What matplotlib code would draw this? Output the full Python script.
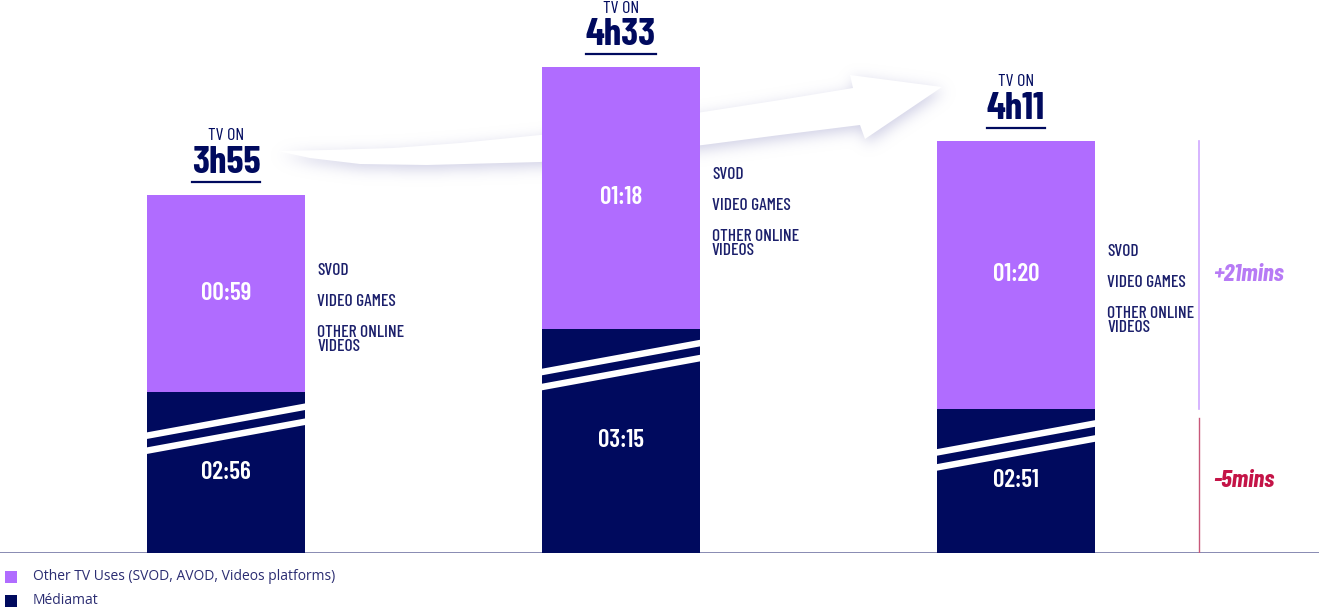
import numpy as np
import matplotlib
matplotlib.use("Agg")
import matplotlib.pyplot as plt
from matplotlib.patches import Polygon, Rectangle
from matplotlib.path import Path
from matplotlib.lines import Line2D
from matplotlib.transforms import IdentityTransform

# minutes per day, three periods
mediamat = [176, 195, 171]
other_uses = [59, 78, 80]
side_labels = ["SVOD", "VIDEO GAMES", "OTHER ONLINE\nVIDEOS"]
series_names = ["Other TV Uses (SVOD, AVOD, Videos platforms)", "Médiamat"]

PURPLE = "#b06cff"
NAVY = "#000a5e"
TEXT_NAVY = "#1b1f6b"
COND = ["Barlow Condensed", "DejaVu Sans"]

W, H = 1319, 613
BREAK = 128          # minutes hidden by the broken axis
PX_PER_MIN = 3.35
BAR_STEP = 395       # px between bar centres
X0 = 226             # px of first bar centre
BASE = 553           # px of baseline (from top)


def hm(m):
    return f"{m // 60:02d}:{m % 60:02d}"


fig = plt.figure(figsize=(W / 100, H / 100), dpi=100)

# pixel overlay for the swoosh arrow and legend
ov = fig.add_axes([0, 0, 1, 1], zorder=0)
ov.set_xlim(0, W)
ov.set_ylim(H, 0)
ov.axis("off")

top = [(277, 151), (327, 150), (393, 148), (460, 143), (540, 135), (620, 124),
       (703, 112), (780, 100), (853, 88)]
head = [(850, 75), (942, 87), (865, 139), (860, 125)]
bottom = [(780, 135), (703, 145), (620, 154), (540, 162), (427, 165),
          (360, 164), (310, 158)]
arrow_pts = np.array(top + head + bottom, dtype=float)

# soft lavender shadow under the arrow
gx0, gx1, gy0, gy1 = 230, 1000, 30, 220
xx, yy = np.meshgrid(np.arange(gx0, gx1) + 0.5, np.arange(gy0, gy1) + 0.5)
shadow_path = Path(arrow_pts + np.array([2, 4]))
mask = shadow_path.contains_points(np.c_[xx.ravel(), yy.ravel()]).reshape(xx.shape).astype(float)
sig = 7
k = np.arange(-3 * sig, 3 * sig + 1)
kern = np.exp(-k ** 2 / (2 * sig ** 2))
kern /= kern.sum()
blur = np.apply_along_axis(lambda r: np.convolve(r, kern, mode="same"), 1, mask)
blur = np.apply_along_axis(lambda c: np.convolve(c, kern, mode="same"), 0, blur)
rgba = np.zeros(mask.shape + (4,))
rgba[..., 0] = 0.78
rgba[..., 1] = 0.78
rgba[..., 2] = 0.88
rgba[..., 3] = np.clip(blur * 0.85, 0, 1)
ov.imshow(rgba, extent=(gx0, gx1, gy1, gy0), origin="upper", aspect="auto",
          interpolation="bilinear", zorder=1)
ov.add_patch(Polygon(arrow_pts, closed=True, facecolor="white", edgecolor="none", zorder=2))
ov.set_xlim(0, W)
ov.set_ylim(H, 0)

# legend
for j, (name, col) in enumerate(zip(series_names, [PURPLE, NAVY])):
    y = 577 + 24 * j
    ov.add_patch(Rectangle((5, y - 6), 12, 12, facecolor=col, edgecolor="none"))
    ov.text(33, y, name, fontsize=10, family=["Open Sans", "DejaVu Sans"],
            color="#2b2d72", va="center", ha="left")

# main bar axes
ax = fig.add_axes([0, (H - BASE) / H, 1, BASE / H], zorder=1)
ax.patch.set_visible(False)
ax.axis("off")
ax.set_xlim(-X0 / BAR_STEP, (W - X0) / BAR_STEP)
ax.set_ylim(0, BASE / PX_PER_MIN)
ax.axhline(0, color="#7f81ad", lw=1.3, zorder=1)

py = 1 / PX_PER_MIN       # one pixel in y units
px = 1 / BAR_STEP         # one pixel in x units
bw = 158 * px
xs = np.arange(len(mediamat))
dark_h = [m - BREAK for m in mediamat]
totals = [m + o for m, o in zip(mediamat, other_uses)]

ax.bar(xs, dark_h, width=bw, color=NAVY, zorder=2)
ax.bar(xs, other_uses, width=bw, bottom=dark_h, color=PURPLE, zorder=2)

fig.canvas.draw()
for i in xs:
    h = dark_h[i]
    o = other_uses[i]
    l, r = i - bw / 2 - 3 * px, i + bw / 2 + 3 * px
    # axis-break stripes
    for off_l, off_r in [(44, 14), (59, 29)]:
        yl, yr = h - off_l * py, h - off_r * py
        t = 3.3 * py
        ax.add_patch(Polygon([(l, yl + t), (r, yr + t), (r, yr - t), (l, yl - t)],
                             closed=True, facecolor="white", edgecolor="none", zorder=3))
    ax.text(i, h / 2, hm(mediamat[i]), color="white", fontsize=18, fontweight=600,
            family=COND, ha="center", va="center", zorder=4)
    pc = h + o / 2
    ax.text(i, pc, hm(o), color="white", fontsize=18, fontweight=600,
            family=COND, ha="center", va="center", zorder=4)

    # side labels
    sx = i + bw / 2 + 12 * px
    for lab, dy in zip(side_labels, [23, -8, -46]):
        ax.text(sx, pc + dy * py, lab, color=TEXT_NAVY, fontsize=12.5, family=COND,
                fontweight=500, ha="left", va="center", linespacing=0.92)

    # total on top
    tot = totals[i]
    ytop = h + o
    ax.annotate("TV ON", (i, ytop), xytext=(0, 59 * 0.72), textcoords="offset points",
                ha="center", va="center", fontsize=13, family=COND, color=NAVY)
    big = ax.annotate(f"{tot // 60}h{tot % 60:02d}", (i, ytop), xytext=(0, 32 * 0.72),
                      textcoords="offset points", ha="center", va="center",
                      fontsize=28, fontweight=700, family=COND, color=NAVY)
    bb = big.get_window_extent(fig.canvas.get_renderer())
    uy = ax.transData.transform((i, ytop))[1] + 13
    fig.add_artist(Line2D([bb.x0, bb.x1], [uy, uy], transform=IdentityTransform(),
                          color=NAVY, lw=1.6))

# change between first and last period
lx = (1199 - X0) * px
first, last = 0, len(mediamat) - 1
d_other = other_uses[last] - other_uses[first]
d_med = mediamat[last] - mediamat[first]
ax.plot([lx, lx], [dark_h[last], dark_h[last] + other_uses[last]], color="#cfa8ff", lw=1.2)
ax.plot([lx, lx], [0, dark_h[last] - 9 * py], color="#c8587a", lw=1.0)
tx = (1213 - X0) * px
ax.text(tx, dark_h[last] + other_uses[last] / 2, f"{d_other:+d}mins", color="#b77bf5",
        fontsize=18, fontweight=700, fontstyle="italic", family=COND,
        ha="left", va="center")
ax.text(tx, dark_h[last] / 2, f"{d_med:d}mins", color="#c41447",
        fontsize=18, fontweight=700, fontstyle="italic", family=COND,
        ha="left", va="center")

fig.savefig("out.png", dpi=100, facecolor="white")
